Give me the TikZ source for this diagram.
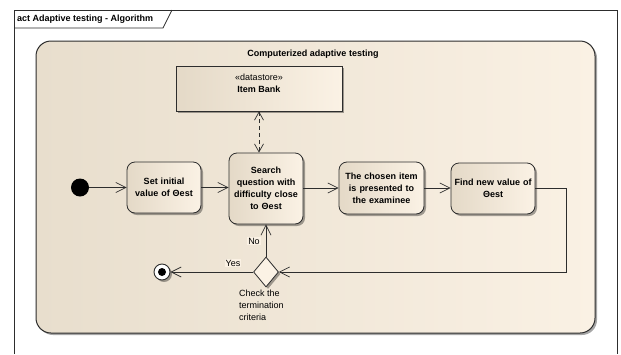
\documentclass[tikz,border=0pt]{standalone}
\usepackage{fontspec}
\setmainfont{Liberation Sans}
\usetikzlibrary{arrows.meta,shapes.geometric,shadows,calc}
\definecolor{fillL}{RGB}{228,217,199}
\definecolor{fillR}{RGB}{251,242,229}
\definecolor{regL}{RGB}{232,222,205}
\definecolor{regR}{RGB}{250,241,228}
\definecolor{edge}{RGB}{45,45,45}
\begin{document}
\begin{tikzpicture}[x=1pt,y=-1pt,
  font=\fontsize{9}{12}\selectfont,
  shadowed/.style={drop shadow={shadow xshift=2pt,shadow yshift=-2pt,opacity=0.35,fill=black}},
  act/.style={draw=edge, line width=0.8pt, rounded corners=8pt, left color=fillL, right color=fillR,
    align=center, font=\fontsize{9}{12}\selectfont\bfseries, inner sep=1pt, shadowed},
  flow/.style={draw=edge, line width=0.7pt, -{Straight Barb[length=10pt,width=10pt]}},
  dflow/.style={draw=edge, line width=0.7pt, dashed, dash pattern=on 4pt off 3pt,
    {Straight Barb[length=8pt,width=9pt]}-{Straight Barb[length=8pt,width=9pt]}},
  lbl/.style={fill=regR, inner sep=1pt},
]
\useasboundingbox (0,0) rectangle (621,354);
\fill[white] (0,0) rectangle (621,354);
% outer frame
\draw[edge, line width=0.8pt] (14,354) -- (14,10) -- (617,10) -- (617,354);
\draw[edge, line width=0.8pt] (14,28) -- (163,28) -- (172,10);
\node[anchor=west, font=\fontsize{9}{12}\selectfont\bfseries, inner sep=0] (frametitle) at (17,19) {act Adaptive testing - Algorithm};
% region
\node[draw=edge, line width=1pt, rounded corners=15pt, left color=regL, right color=regR,
  minimum width=559pt, minimum height=292pt, shadowed] (region) at (315.5,187) {};
\node[font=\fontsize{9}{12}\selectfont\bfseries] (regiontitle) at (313,54) {Computerized adaptive testing};
% datastore
\node[draw=edge, line width=0.8pt, left color=fillL, right color=fillR, minimum width=166pt, minimum height=45pt, shadowed] (itembank) at (259,88.5) {};
\node[align=center, inner sep=0] (ibtext) at (259,83) {«datastore»\\\textbf{Item Bank}};
% actions
\node[act, minimum width=74pt, minimum height=51pt, text width=72pt] (setinit) at (164,187.5) {Set initial\\value of Θest};
\node[act, minimum width=74pt, minimum height=71pt, text width=72pt] (search) at (266,188.5) {Search\\question with\\difficulty close\\to Θest};
\node[act, minimum width=85pt, minimum height=52pt, text width=83pt] (chosen) at (381.5,188) {The chosen item\\is presented to\\the examinee};
\node[act, minimum width=84pt, minimum height=51pt, text width=82pt] (find) at (493,188.5) {Find new value of\\Θest};
% control nodes
\node[circle, fill=black, minimum size=18pt, inner sep=0] (init) at (80,187.5) {};
\node[circle, draw=edge, fill=white, line width=0.9pt, minimum size=16pt, inner sep=0, shadowed] (final) at (162,272) {};
\node[circle, fill=black, minimum size=8pt, inner sep=0] (finaldot) at (final.center) {};
\node[diamond, draw=edge, fill=fillR, line width=0.8pt, minimum width=25pt, minimum height=30pt, aspect=0.83, inner sep=0, shadowed] (dec) at (266,272) {};
% connectors
\draw[flow] (init.east) -- (init.east -| setinit.west);
\draw[flow] (setinit.east) -- (setinit.east -| search.west);
\draw[flow] (search.east |- chosen.west) -- (chosen.west);
\draw[flow] (chosen.east) -- (chosen.east -| find.west);
\draw[flow] (find.east) -- ++(31,0) |- (dec.east);
\draw[flow] (dec.north) -- (search.south);
\draw[flow] (dec.west) -- (final.east);
\draw[dflow] (itembank.south) -- (itembank.south |- search.north);
% labels
\node[lbl] (no) at (254,241) {No};
\node[lbl] (yes) at (233,263) {Yes};
\node[anchor=north west, align=left, inner sep=0] (check) at (239,290) {Check the\\termination\\criteria};
\end{tikzpicture}
\end{document}
